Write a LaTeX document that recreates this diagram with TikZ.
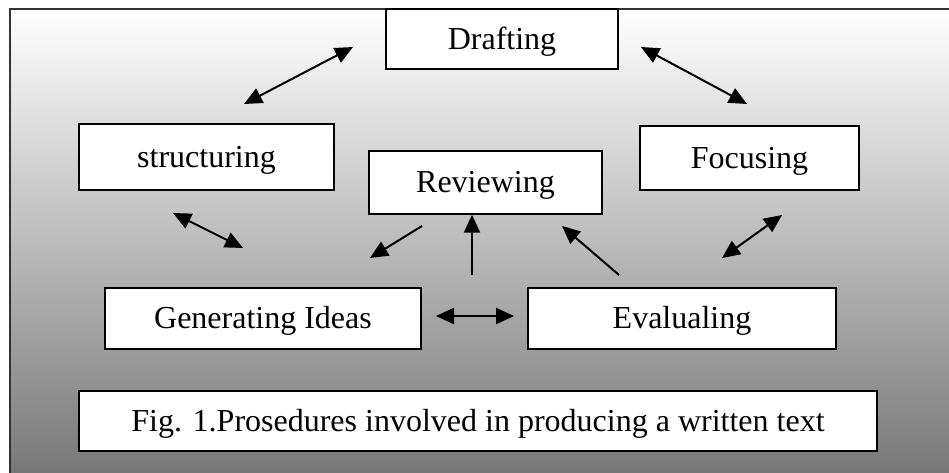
\documentclass[tikz,border=0pt]{standalone}
\usepackage{fontspec}
\setmainfont{Liberation Serif}
\usetikzlibrary{arrows.meta}
\tikzset{stage/.style={rectangle,draw,line width=1.3pt,fill=white,inner sep=0pt,text height=26pt,text depth=6pt,font=\fontsize{32}{36}\selectfont}}
\tikzset{both/.style={{Triangle[length=18pt,width=16pt]}-{Triangle[length=18pt,width=16pt]},line width=2pt}}
\tikzset{one/.style={-{Triangle[length=18pt,width=16pt]},line width=2pt}}

\begin{document}
\begin{tikzpicture}[x=1pt,y=-1pt]
        \clip (0,0) rectangle (949,472);
        \fill[white] (0,0) rectangle (949,472);
        \draw[top color=white,bottom color=black!55,draw=black!80,line width=1.2pt] (10,9) rectangle (975,490);

        \node[stage,minimum width=232pt,minimum height=60pt] (draft) at (502,39) {Drafting};
        \node[stage,minimum width=255pt,minimum height=66pt] (struct) at (206.5,157) {structuring};
        \node[stage,minimum width=233pt,minimum height=63pt] (review) at (485.5,182.5) {Reviewing};
        \node[stage,minimum width=219pt,minimum height=64pt] (focus) at (749.5,158) {Focusing};
        \node[stage,minimum width=316pt,minimum height=61pt] (gen) at (263,318.5) {Generating Ideas};
        \node[stage,minimum width=308pt,minimum height=61pt] (eval) at (682,318.5) {Evalualing};
        \node[stage,minimum width=798pt,minimum height=60pt] (fig) at (478,421) {Fig. 1.Prosedures involved in producing a written text};

        \coordinate (ds1) at (353,47);
        \coordinate (ds2) at (244,104);
        \coordinate (df1) at (641,47);
        \coordinate (df2) at (747,104);
        \coordinate (sg1) at (173,213);
        \coordinate (sg2) at (243,248);
        \coordinate (rg1) at (422,226);
        \coordinate (rg2) at (370,258);
        \coordinate (ur) at (472,275);
        \coordinate (er1) at (619,275);
        \coordinate (er2) at (562,226);
        \coordinate (fe1) at (782,215);
        \coordinate (fe2) at (722,258);
        \coordinate (ge1) at (436,316);
        \coordinate (ge2) at (514,316);

        \draw [both] (ds1) -- (ds2);
        \draw [both] (df1) -- (df2);
        \draw [both] (sg1) -- (sg2);
        \draw [one] (rg1) -- (rg2);
        \draw [one] (ur) -- (ur |- review.south);
        \draw [one] (er1) -- (er2);
        \draw [both] (fe1) -- (fe2);
        \draw [both] (ge1) -- (ge2);
    \end{tikzpicture}
\end{document}
